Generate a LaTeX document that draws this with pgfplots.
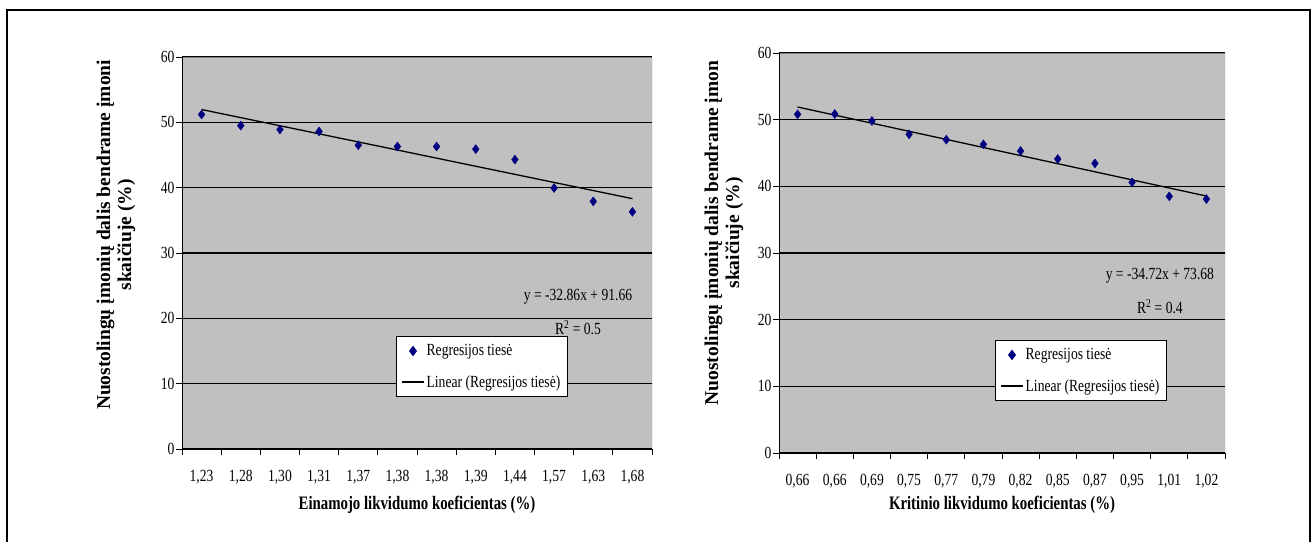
\documentclass[border=0pt]{standalone}
\usepackage{fontspec}
\setmainfont{Liberation Serif}
\newfontfamily\cond[FakeStretch=0.8]{Liberation Serif}
\newfontfamily\condb[FakeStretch=0.78]{Liberation Serif Bold}
\usepackage{pgfplots}
\usepackage{pgfplotstable}
\pgfplotsset{compat=1.18}

\definecolor{plotgray}{HTML}{C0C0C0}
\definecolor{navy}{HTML}{000080}
\definecolor{bordergray}{HTML}{808080}

% Share of loss-making companies (%) by current liquidity ratio
\pgfplotstableread{
idx y
1  51.2
2  49.5
3  48.9
4  48.6
5  46.5
6  46.3
7  46.3
8  45.9
9  44.3
10 39.95
11 37.9
12 36.3
}\einamojo

% Linear trend, current liquidity
\pgfplotstableread{
idx y
1  51.96
12 38.32
}\einamojotrend

% Share of loss-making companies (%) by quick liquidity ratio
\pgfplotstableread{
idx y
1  50.8
2  50.85
3  49.8
4  47.8
5  47.0
6  46.3
7  45.3
8  44.1
9  43.45
10 40.6
11 38.5
12 38.1
}\kritinio

% Linear trend, quick liquidity
\pgfplotstableread{
idx y
1  51.9
12 38.54
}\kritiniotrend

\newcommand{\smallfont}{\cond\fontsize{17}{17}\selectfont}

\pgfplotsset{
  liq/.style={
    scale only axis,
    xmin=0.5, xmax=12.5, ymin=0, ymax=60,
    xtick={0.5,1.5,...,12.5},
    x tick label as interval,
    ytick={0,10,...,60},
    tick align=outside, tick pos=left,
    major tick length=6pt,
    tick style={black, line width=1pt},
    axis background/.style={fill=plotgray},
    axis line style={draw=none},
    ymajorgrids,
    major grid style={black, line width=1.5pt},
    ticklabel style={font=\smallfont},
    /pgf/number format/assume math mode=true,
    yticklabel style={xshift=2pt},
    xticklabel style={yshift=-12pt},
    xlabel style={font=\condb\fontsize{19}{19}\selectfont, anchor=center},
    ylabel style={font=\bfseries\fontsize{19.5}{21}\selectfont, anchor=center, align=center},
    legend style={draw=black, line width=1pt, fill=white, font=\smallfont,
      inner xsep=5pt, inner ysep=6pt, row sep=14pt, legend cell align=left},
    legend image code/.code={%
      \draw[mark repeat=2, mark phase=2, #1]
        plot coordinates {(0pt,0pt) (11pt,0pt) (22pt,0pt)};},
  },
  pts/.style={only marks, mark=diamond*, mark size=4.5pt, color=navy},
  trend/.style={black, line width=1.3pt, no marks},
}

\newcommand{\frameaxis}{%
  \draw[bordergray, line width=1pt] (rel axis cs:0,1) -- (rel axis cs:1,1) -- (rel axis cs:1,0);
  \draw[black, line width=1.3pt] (rel axis cs:0,1) -- (rel axis cs:0,0) -- (rel axis cs:1,0);
}

\begin{document}
\begin{tikzpicture}
\useasboundingbox (0pt,0pt) rectangle (1313pt,542pt);
\draw[line width=2.5pt] (7pt,0pt) -- (7pt,532pt) -- (1310pt,532pt) -- (1310pt,0pt);

\begin{axis}[liq,
  at={(182pt,93pt)}, anchor=south west,
  width=470pt, height=392pt,
  xticklabels={{1,23},{1,28},{1,30},{1,31},{1,37},{1,38},{1,38},{1,39},{1,44},{1,57},{1,63},{1,68}},
  xlabel={Einamojo likvidumo koeficientas (\%)},
  xlabel style={at={(axis description cs:0.5,-0.142)}},
  ylabel={Nuostolingų įmonių dalis bendrame įmoni\\skaičiuje (\%)},
  ylabel style={at={(axis description cs:-0.1404,0.546)}},
  legend style={at={(0.455,0.288)}, anchor=north west},
]
\addplot[pts] table[x=idx, y=y] {\einamojo};
\addlegendentry{Regresijos tiesė}
\addplot[trend] table[x=idx, y=y] {\einamojotrend};
\addlegendentry{Linear (Regresijos tiesė)}
\node[font=\smallfont] at (rel axis cs:0.8426,0.388) {y = -32.86x + 91.66};
\node[font=\smallfont] at (rel axis cs:0.8426,0.310) {R\textsuperscript{2} = 0.5};
\frameaxis
\end{axis}

\begin{axis}[liq,
  at={(779pt,89pt)}, anchor=south west,
  width=446pt, height=400pt,
  xticklabels={{0,66},{0,66},{0,69},{0,75},{0,77},{0,79},{0,82},{0,85},{0,87},{0,95},{1,01},{1,02}},
  xlabel={Kritinio likvidumo koeficientas (\%)},
  xlabel style={at={(axis description cs:0.5,-0.13)}},
  ylabel={Nuostolingų įmonių dalis bendrame įmon\\skaičiuje (\%)},
  ylabel style={at={(axis description cs:-0.1233,0.55)}},
  legend style={at={(0.484,0.2825)}, anchor=north west},
]
\addplot[pts] table[x=idx, y=y] {\kritinio};
\addlegendentry{Regresijos tiesė}
\addplot[trend] table[x=idx, y=y] {\kritiniotrend};
\addlegendentry{Linear (Regresijos tiesė)}
\node[font=\smallfont] at (rel axis cs:0.854,0.4425) {y = -34.72x + 73.68};
\node[font=\smallfont] at (rel axis cs:0.854,0.365) {R\textsuperscript{2} = 0.4};
\frameaxis
\end{axis}
\end{tikzpicture}
\end{document}
